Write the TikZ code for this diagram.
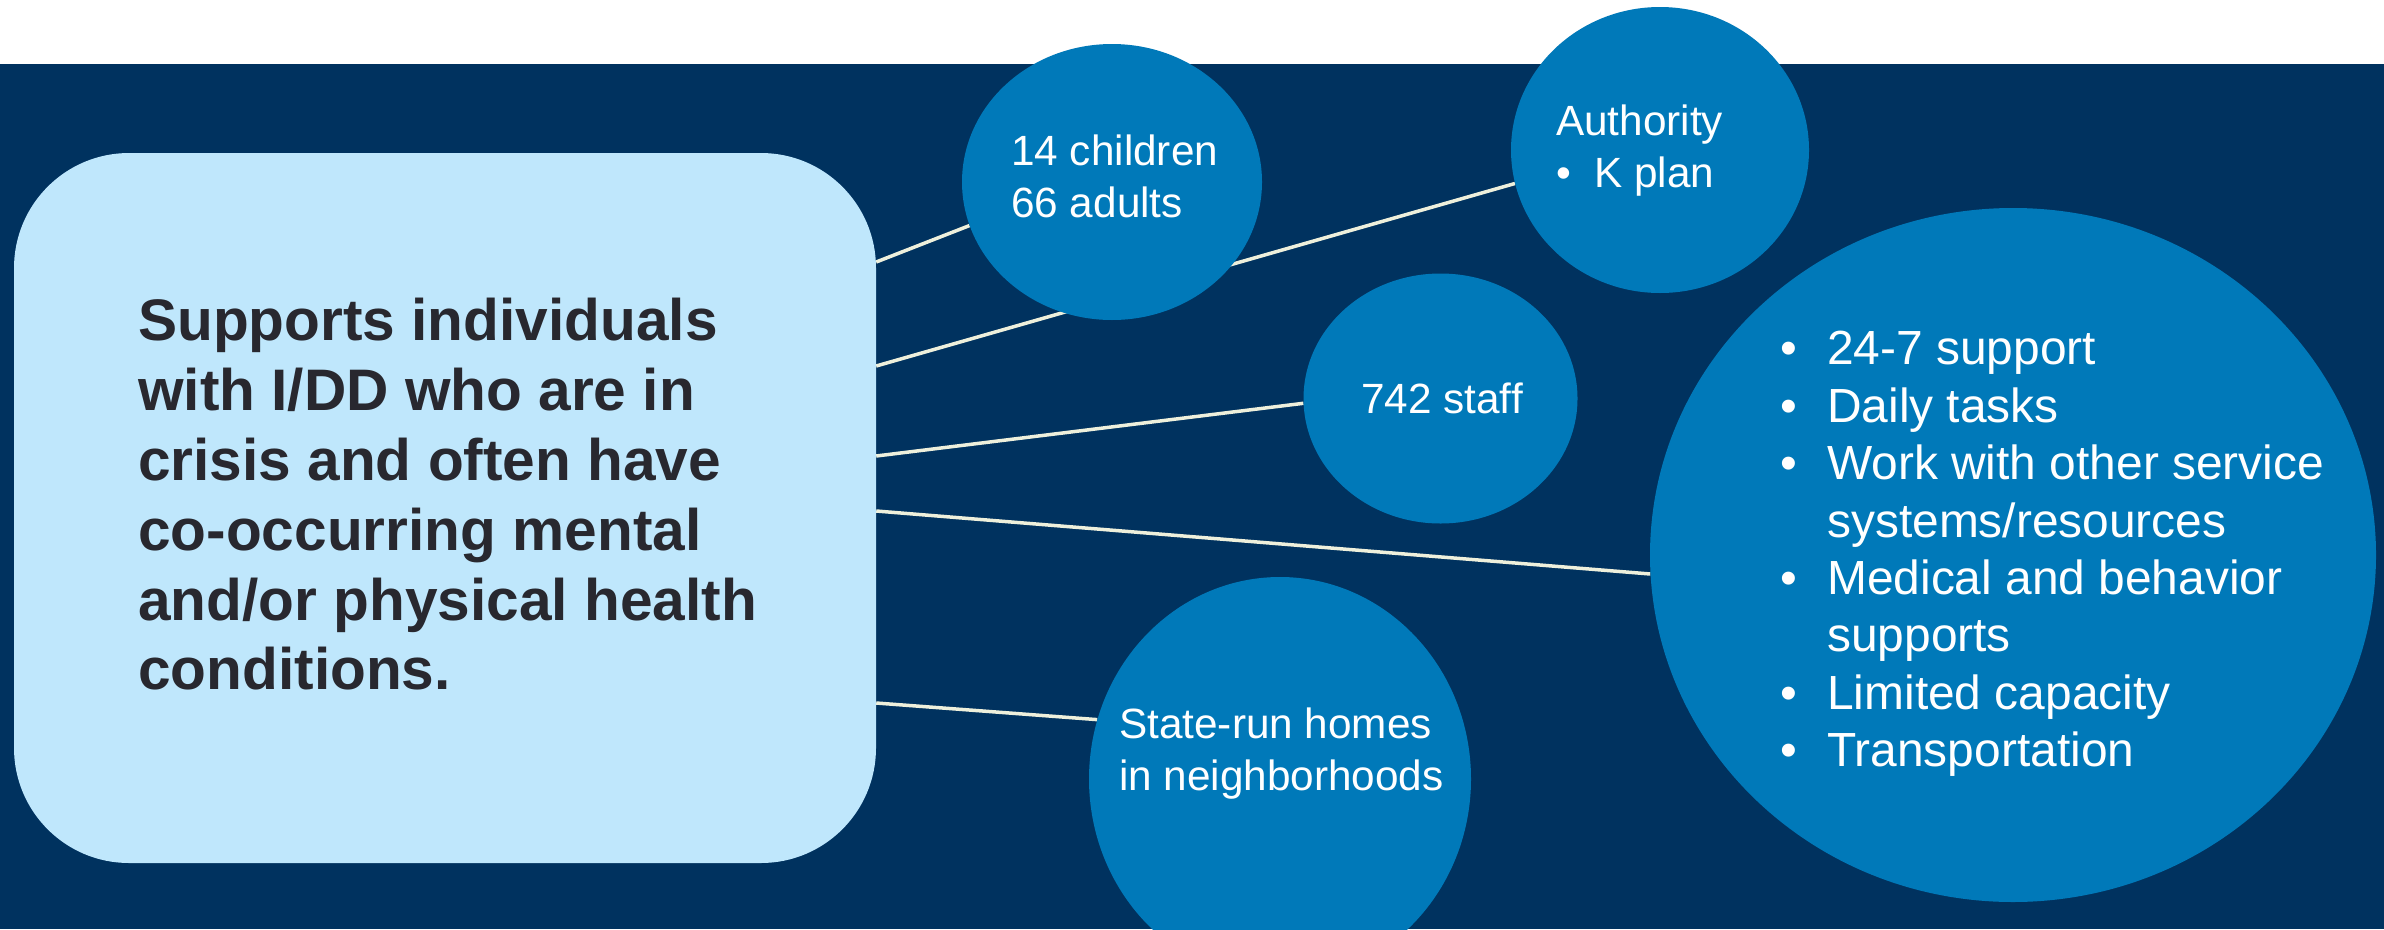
\documentclass[tikz,border=0pt]{standalone}
\usepackage{fontspec}
\setmainfont{Liberation Sans}
\usetikzlibrary{shapes.geometric}
\definecolor{navybg}{HTML}{00325F}
\definecolor{bubbleblue}{HTML}{0079B9}
\definecolor{palebox}{HTML}{BFE7FC}
\definecolor{inkdark}{HTML}{28282F}
\definecolor{wire}{HTML}{EEF0DC}
\pgfdeclarelayer{backdrop}
\pgfdeclarelayer{lines}
\pgfsetlayers{backdrop,lines,main}
\newcommand\bulbox[1]{\makebox[#1][l]{•}}
\begin{document}
\begin{tikzpicture}[x=1pt,y=-1pt,
  bubble/.style={ellipse, fill=bubbleblue, draw=none, inner sep=0pt},
  mainbox/.style={rectangle, rounded corners=115pt, fill=palebox, draw=none, inner sep=0pt},
  link/.style={draw=wire, line width=3.5pt},
  smalltxt/.style={text=white, inner sep=0pt, align=left, font=\fontsize{42.3pt}{52pt}\selectfont},
  bigtxt/.style={text=white, inner sep=0pt, align=left, font=\fontsize{47.9pt}{57.4pt}\selectfont},
  maintxt/.style={text=inkdark, inner sep=0pt, align=left, font=\fontsize{58.6pt}{69.8pt}\selectfont\bfseries},
]
\useasboundingbox (0,0) rectangle (2384,929);
\clip (0,0) rectangle (2384,929);
\begin{pgfonlayer}{backdrop}
\fill[white] (0,0) rectangle (2384,929);
\fill[navybg] (0,64) rectangle (2384,929);
\end{pgfonlayer}

% main box
\node[mainbox, minimum width=862pt, minimum height=710pt] (box) at (445,508) {};
\node[maintxt, anchor=north west] (boxtext) at (138,298.3)
  {Supports individuals\\with I/DD who are in\\crisis and often have\\co-occurring mental\\and/or physical health\\conditions.};

% bubbles
\node[bubble, minimum width=300pt, minimum height=276pt] (kids) at (1112,182) {};
\node[bubble, minimum width=298pt, minimum height=286pt] (auth) at (1660,150) {};
\node[bubble, minimum width=274pt, minimum height=250pt] (staff) at (1440.5,398.5) {};
\node[bubble, minimum width=726pt, minimum height=694pt] (serv) at (2013,555) {};
\node[bubble, minimum width=382pt, minimum height=404pt] (homes) at (1280,779) {};

% bubble texts
\node[smalltxt, anchor=north west] (kidstext) at (1011,134.3) {14 children\\66 adults};
\node[smalltxt, anchor=north west] (authtext) at (1556,104.3) {Authority\\\bulbox{38pt}K plan};
\node[smalltxt, anchor=base] (stafftext) at (1442,413) {742 staff};
\node[smalltxt, anchor=north west] (homestext) at (1119,707.3) {State-run homes\\in neighborhoods};
\node[bigtxt, anchor=north west] (servtext) at (1780,331.2)
  {\bulbox{47pt}24-7 support\\
   \bulbox{47pt}Daily tasks\\
   \bulbox{47pt}Work with other service\\
   \makebox[47pt]{}systems/resources\\
   \bulbox{47pt}Medical and behavior\\
   \makebox[47pt]{}supports\\
   \bulbox{47pt}Limited capacity\\
   \bulbox{47pt}Transportation};

% connectors
\begin{pgfonlayer}{lines}
\draw[link] (box.east |- 0,262) -- (kids.197);
\draw[link] (box.east |- 0,366) -- (auth.193);
\draw[link] (box.east |- 0,456) -- (staff.182);
\draw[link] (box.east |- 0,511) -- (serv.183);
\draw[link] (box.east |- 0,703) -- (homes.162);
\end{pgfonlayer}
\end{tikzpicture}
\end{document}
